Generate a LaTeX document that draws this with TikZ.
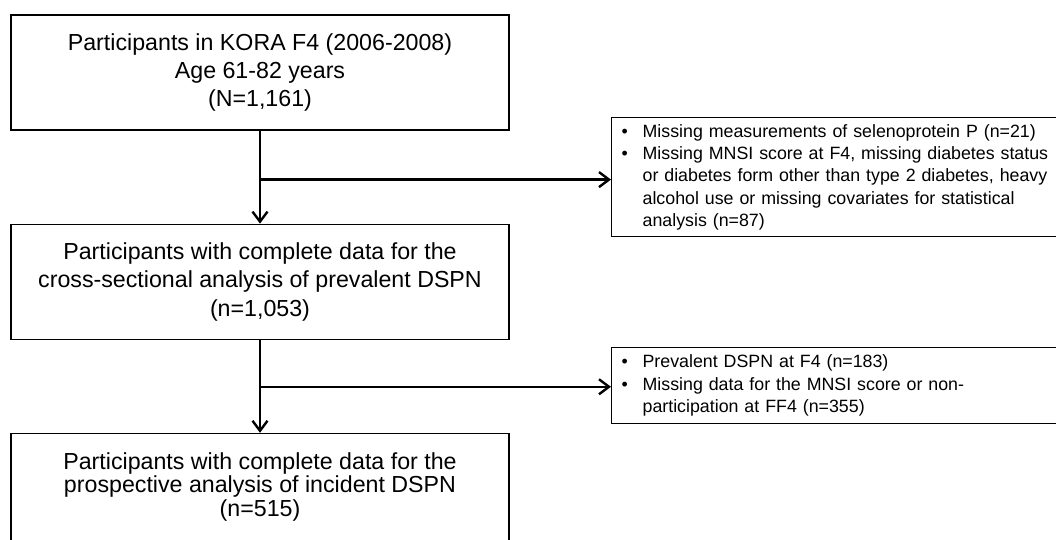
\documentclass[tikz,border=0pt]{standalone}
\usepackage{fontspec}
\setmainfont{Liberation Sans}
\usetikzlibrary{arrows.meta, positioning}
\newcommand{\bul}{\makebox[21pt][l]{\textbullet}}
\newcommand{\ind}{\hspace*{21pt}}

\begin{document}
\begin{tikzpicture}[x=1pt, y=-1pt,
    b/.style={draw, line width=1.2pt, minimum width=498pt, minimum height=115pt, align=center, inner sep=0pt, font=\fontsize{23.2}{28.3}\selectfont},
    ex/.style={draw, line width=1.2pt, anchor=north west, text width=440pt, align=left, inner xsep=10pt, inner ysep=0pt, font=\fontsize{17.8}{22.3}\selectfont},
    arr/.style={line width=2.4pt, -{Straight Barb[length=10pt, width=15pt]}}]
  \useasboundingbox (0,0) rectangle (1056,540);

  \draw node[b] (b1) at (260,72.5) {Participants in KORA F4 (2006-2008)\\Age 61-82 years\\(N=1,161)}
    node[b, below=93pt of b1] (b2) {Participants with complete data for the\\cross-sectional analysis of prevalent DSPN\\(n=1,053)}
    node[b, below=93pt of b2, minimum height=107pt, font=\fontsize{23.2}{23.5}\selectfont] (b3) {Participants with complete data for the\\prospective analysis of incident DSPN\\(n=515)};

  \draw node[ex, minimum height=119pt] (e1) at (611,117) {\bul Missing measurements of selenoprotein P (n=21)\\
      \bul Missing MNSI score at F4, missing diabetes status\\
      \ind or diabetes form other than type 2 diabetes, heavy\\
      \ind alcohol use or missing covariates for statistical\\
      \ind analysis (n=87)}
    node[ex, minimum height=76pt] (e2) at (611,347) {\bul Prevalent DSPN at F4 (n=183)\\
      \bul Missing data for the MNSI score or non-\\
      \ind participation at FF4 (n=355)};

  \path (b1.south) ++(0,49) coordinate (j1);
  \path (b2.south) ++(0,47) coordinate (j2);

  \draw[arr] (b1) -- (b2);
  \draw[arr] (b2) -- (b3);
  \draw[arr] (j1) -- (j1 -| e1.west);
  \draw[arr] (j2) -- (j2 -| e2.west);
\end{tikzpicture}
\end{document}
